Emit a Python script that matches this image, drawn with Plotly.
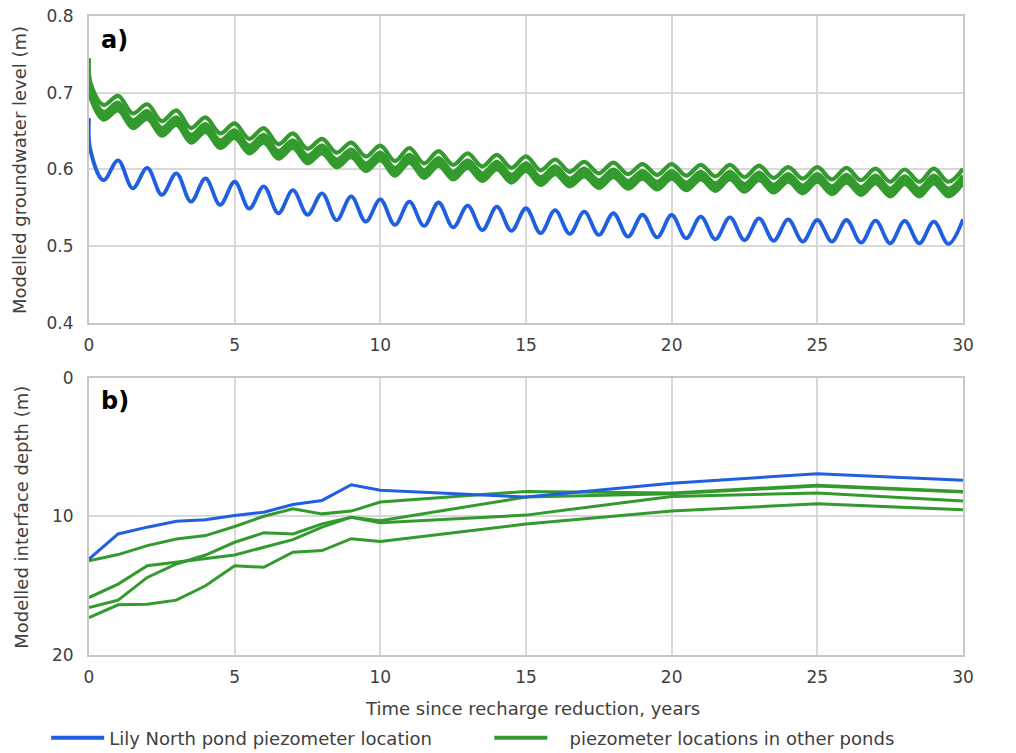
import plotly.graph_objects as go

# ---------------- Panel a) : modelled groundwater level (m) ----------------
start_t = [0.0, 0.05]
peak_t = [float(k) for k in range(1, 31)]          # annual maxima
trough_t = [k + 0.5 for k in range(0, 30)]         # annual minima

blue_start = [0.667, 0.625]
blue_peaks = [0.612, 0.602, 0.595, 0.5885, 0.584, 0.578, 0.573, 0.569, 0.565, 0.561,
              0.558, 0.557, 0.553, 0.5515, 0.5495, 0.547, 0.545, 0.543, 0.541, 0.5407,
              0.5385, 0.5377, 0.5364, 0.535, 0.5342, 0.5342, 0.5333, 0.533, 0.532, 0.535]
blue_troughs = [0.586, 0.5755, 0.567, 0.558, 0.554, 0.549, 0.543, 0.541, 0.534, 0.532,
                0.5277, 0.5264, 0.5247, 0.521, 0.520, 0.517, 0.516, 0.5147, 0.5125, 0.5116,
                0.5103, 0.509, 0.508, 0.507, 0.506, 0.506, 0.5046, 0.5038, 0.5038, 0.503]

g1_start = [0.745, 0.713]
g1_peaks = [0.696, 0.685, 0.677, 0.668, 0.660, 0.654, 0.647, 0.640, 0.635, 0.631,
            0.628, 0.624, 0.621, 0.619, 0.617, 0.613, 0.610, 0.609, 0.607, 0.607,
            0.606, 0.606, 0.605, 0.603, 0.603, 0.602, 0.601, 0.600, 0.601, 0.601]
g1_troughs = [0.684, 0.673, 0.663, 0.654, 0.647, 0.640, 0.633, 0.627, 0.622, 0.617,
              0.611, 0.608, 0.606, 0.604, 0.602, 0.599, 0.597, 0.595, 0.594, 0.593,
              0.592, 0.591, 0.590, 0.589, 0.588, 0.587, 0.586, 0.584, 0.584, 0.584]

g2_start = [0.728, 0.704]
g2_peaks = [0.687, 0.676, 0.668, 0.659, 0.651, 0.645, 0.638, 0.631, 0.626, 0.622,
            0.619, 0.615, 0.612, 0.610, 0.608, 0.604, 0.601, 0.600, 0.598, 0.598,
            0.597, 0.597, 0.596, 0.594, 0.594, 0.593, 0.592, 0.591, 0.592, 0.592]
g2_troughs = [0.675, 0.664, 0.654, 0.645, 0.638, 0.631, 0.624, 0.618, 0.613, 0.608,
              0.602, 0.599, 0.597, 0.595, 0.593, 0.590, 0.588, 0.586, 0.585, 0.584,
              0.583, 0.582, 0.581, 0.580, 0.579, 0.578, 0.577, 0.575, 0.575, 0.575]

g3_start = [0.718, 0.699]
g3_peaks = [0.682, 0.671, 0.663, 0.654, 0.646, 0.640, 0.633, 0.626, 0.621, 0.617,
            0.614, 0.610, 0.607, 0.605, 0.603, 0.599, 0.596, 0.595, 0.593, 0.593,
            0.592, 0.592, 0.591, 0.589, 0.589, 0.588, 0.587, 0.586, 0.587, 0.587]
g3_troughs = [0.670, 0.659, 0.649, 0.640, 0.633, 0.626, 0.619, 0.613, 0.608, 0.603,
              0.597, 0.594, 0.592, 0.590, 0.588, 0.585, 0.583, 0.581, 0.580, 0.579,
              0.578, 0.577, 0.576, 0.575, 0.574, 0.573, 0.572, 0.570, 0.570, 0.570]

g4_start = [0.708, 0.694]
g4_peaks = [0.677, 0.666, 0.658, 0.649, 0.641, 0.635, 0.628, 0.621, 0.616, 0.612,
            0.609, 0.605, 0.602, 0.600, 0.598, 0.594, 0.591, 0.590, 0.588, 0.588,
            0.587, 0.587, 0.586, 0.584, 0.584, 0.583, 0.582, 0.581, 0.582, 0.582]
g4_troughs = [0.665, 0.654, 0.644, 0.635, 0.628, 0.621, 0.614, 0.608, 0.603, 0.598,
              0.592, 0.589, 0.587, 0.585, 0.583, 0.580, 0.578, 0.576, 0.575, 0.574,
              0.573, 0.572, 0.571, 0.570, 0.569, 0.568, 0.567, 0.565, 0.565, 0.565]

# ---------------- Panel b) : modelled interface depth (m) ----------------
depth_t = [0, 1, 2, 3, 4, 5, 6, 7, 8, 9, 10, 15, 20, 25, 30]
blue_depth = [13.07, 11.26, 10.77, 10.34, 10.24, 9.93, 9.69, 9.13, 8.84, 7.71, 8.1, 8.6, 7.6, 6.91, 7.39]
gA_depth = [13.2, 12.75, 12.1, 11.62, 11.38, 10.72, 9.98, 9.45, 9.81, 9.61, 8.96, 8.19, 8.3, 7.75, 8.2]
gB_depth = [15.85, 14.88, 13.55, 13.31, 13.07, 12.78, 12.22, 11.67, 10.77, 10.05, 10.3, 8.6, 8.35, 7.8, 8.24]
gC_depth = [16.57, 16.04, 14.4, 13.43, 12.78, 11.86, 11.18, 11.26, 10.53, 10.05, 10.46, 9.9, 8.55, 8.31, 8.89]
gD_depth = [17.3, 16.38, 16.33, 16.04, 15.0, 13.55, 13.67, 12.58, 12.46, 11.6, 11.8, 10.55, 9.6, 9.08, 9.52]

x_ticks = [0, 5, 10, 15, 20, 25, 30]
level_ticks = [0.4, 0.5, 0.6, 0.7, 0.8]
level_labels = ["0.4", "0.5", "0.6", "0.7", "0.8"]
depth_ticks = [0, 10, 20]
depth_labels = ["0", "10", "20"]

legend_blue = "Lily North pond piezometer location"
legend_green = "\u00a0\u00a0\u00a0piezometer locations in other ponds"

BLUE = "#1f5fe0"
GREEN = "#339a2e"
GRID = "#d9d9d9"
TXT = "#404040"


def build(start, troughs, peaks):
    xs = list(start_t)
    ys = list(start)
    for tt, tv, pt, pv in zip(trough_t, troughs, peak_t, peaks):
        xs += [tt, pt]
        ys += [tv, pv]
    return xs, ys


fig = go.Figure()

# top panel: greens then blue
for i, (s, tr, pk) in enumerate([(g4_start, g4_troughs, g4_peaks), (g3_start, g3_troughs, g3_peaks),
                                  (g2_start, g2_troughs, g2_peaks), (g1_start, g1_troughs, g1_peaks)]):
    xs, ys = build(s, tr, pk)
    fig.add_trace(go.Scatter(x=xs, y=ys, mode="lines",
                             line=dict(color=GREEN, width=4.2, shape="spline", smoothing=1.0),
                             name=legend_green, legend="legend2", showlegend=(i == 0),
                             xaxis="x", yaxis="y", hoverinfo="skip"))
xs, ys = build(blue_start, blue_troughs, blue_peaks)
fig.add_trace(go.Scatter(x=xs, y=ys, mode="lines",
                         line=dict(color=BLUE, width=3.8, shape="spline", smoothing=1.0),
                         name=legend_blue, legend="legend", showlegend=True,
                         xaxis="x", yaxis="y", hoverinfo="skip"))

# bottom panel
for d in [gA_depth, gB_depth, gC_depth, gD_depth]:
    fig.add_trace(go.Scatter(x=depth_t, y=d, mode="lines", line=dict(color=GREEN, width=3),
                             showlegend=False, xaxis="x2", yaxis="y2", hoverinfo="skip"))
fig.add_trace(go.Scatter(x=depth_t, y=blue_depth, mode="lines", line=dict(color=BLUE, width=3),
                         showlegend=False, xaxis="x2", yaxis="y2", hoverinfo="skip"))

TOP_DOM = [0.5196, 1.0]
BOT_DOM = [0.0, 0.4335]

common_x = dict(range=[0, 30], tickvals=x_ticks, showgrid=True, gridcolor=GRID, gridwidth=2,
                showline=True, linecolor="#c8c8c8", linewidth=2, mirror=True, zeroline=False,
                ticks="", ticklabelstandoff=6, tickfont=dict(size=17, color=TXT))

fig.update_layout(
    width=1016, height=753,
    margin=dict(l=89, r=53, t=16, b=98, autoexpand=False),
    paper_bgcolor="white", plot_bgcolor="white",
    font=dict(family="DejaVu Sans", size=17, color=TXT),
    xaxis=dict(domain=[0, 1], anchor="y", **common_x),
    xaxis2=dict(domain=[0, 1], anchor="y2", **common_x),
    yaxis=dict(domain=TOP_DOM, anchor="x", range=[0.4, 0.8], tickvals=level_ticks, ticktext=level_labels,
               showgrid=True, gridcolor=GRID, gridwidth=2, showline=True, linecolor="#c8c8c8",
               linewidth=2, mirror=True, zeroline=False, ticks="", ticklabelstandoff=10,
               tickfont=dict(size=17, color=TXT)),
    yaxis3=dict(overlaying="y", side="right", anchor="x", range=[0.4, 0.8], tickvals=level_ticks,
                ticktext=level_labels, showgrid=False, showline=False, zeroline=False, ticks="",
                ticklabelstandoff=11, tickfont=dict(size=17, color=TXT)),
    yaxis2=dict(domain=BOT_DOM, anchor="x2", range=[20, 0], tickvals=depth_ticks, ticktext=depth_labels,
                showgrid=True, gridcolor=GRID, gridwidth=2, showline=True, linecolor="#c8c8c8",
                linewidth=2, mirror=True, zeroline=False, ticks="", ticklabelstandoff=10,
                tickfont=dict(size=17, color=TXT)),
    yaxis4=dict(overlaying="y2", side="right", anchor="x2", range=[20, 0], tickvals=depth_ticks,
                ticktext=depth_labels, showgrid=False, showline=False, zeroline=False, ticks="",
                ticklabelstandoff=11, tickfont=dict(size=17, color=TXT)),
    legend=dict(orientation="h", x=-0.049, xref="paper", xanchor="left", y=-0.130, yanchor="middle",
                font=dict(size=18, color=TXT), itemwidth=53, bgcolor="rgba(0,0,0,0)"),
    legend2=dict(orientation="h", x=0.458, xref="paper", xanchor="left", y=-0.130, yanchor="middle",
                 font=dict(size=18, color=TXT), itemwidth=53, bgcolor="rgba(0,0,0,0)"),
    annotations=[
        dict(text="<b>a)</b>", xref="x domain", yref="y domain", x=0.011, y=0.975, xanchor="left",
             yanchor="top", showarrow=False, font=dict(size=24, color="#000000")),
        dict(text="<b>b)</b>", xref="x2 domain", yref="y2 domain", x=0.011, y=0.975, xanchor="left",
             yanchor="top", showarrow=False, font=dict(size=24, color="#000000")),
        dict(text="Modelled groundwater level (m)", xref="paper", yref="paper", x=-0.079, y=0.759,
             xanchor="center", yanchor="middle", textangle=-90, showarrow=False,
             font=dict(size=18, color=TXT)),
        dict(text="Modelled interface depth (m)", xref="paper", yref="paper", x=-0.077, y=0.216,
             xanchor="center", yanchor="middle", textangle=-90, showarrow=False,
             font=dict(size=18, color=TXT)),
        dict(text="Time since recharge reduction, years", xref="paper", yref="paper", x=0.507, y=-0.083,
             xanchor="center", yanchor="middle", showarrow=False, font=dict(size=18, color=TXT)),
    ],
)

fig.write_html("out.html")
